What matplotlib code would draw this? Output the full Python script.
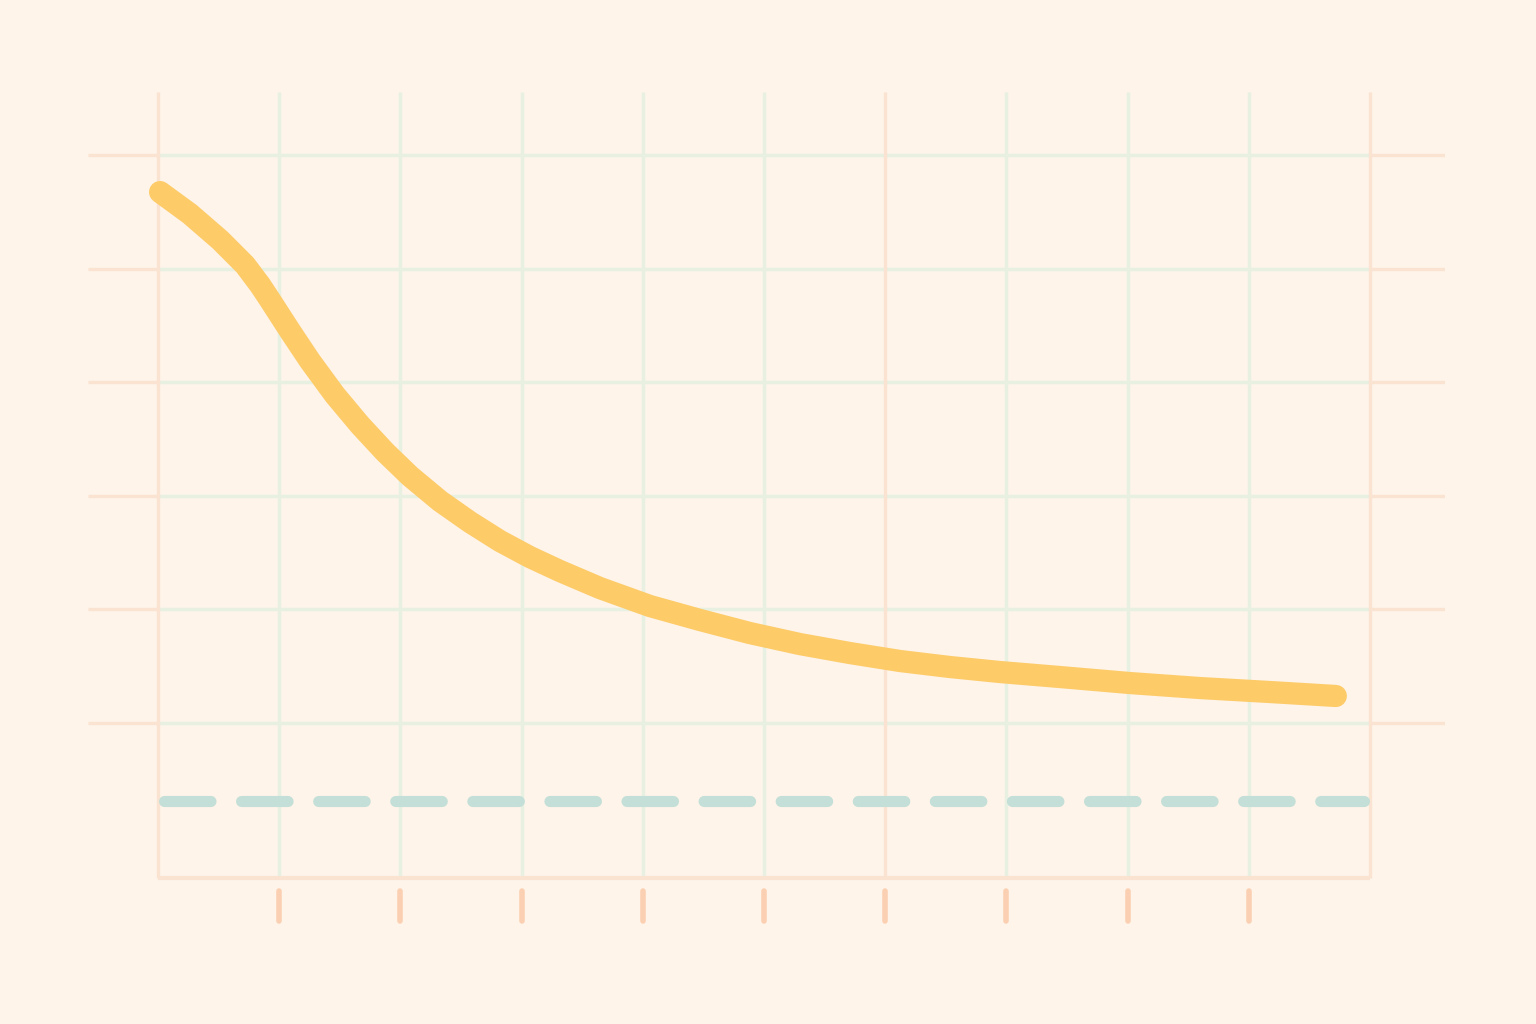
import matplotlib
matplotlib.use("Agg")
import matplotlib.pyplot as plt

# ---- data ----
curve_x = [0.017, 0.264, 0.512, 0.718, 0.842, 0.924, 1.089, 1.254, 1.460, 1.667, 1.873,
           2.079, 2.327, 2.574, 2.822, 3.069, 3.317, 3.647, 4.059, 4.472, 4.884,
           5.297, 5.710, 6.122, 6.535, 6.947, 7.442, 8.020, 8.597, 9.175, 9.719]
curve_y = [5.674, 5.481, 5.252, 5.032, 4.856, 4.724, 4.451, 4.187, 3.887, 3.623, 3.386,
           3.174, 2.954, 2.769, 2.602, 2.461, 2.338, 2.188, 2.030, 1.907, 1.792,
           1.695, 1.616, 1.546, 1.493, 1.449, 1.405, 1.352, 1.308, 1.273, 1.238]
baseline_y = 0.31
grid_x = [0, 1, 2, 3, 4, 5, 6, 7, 8, 9, 10]
accent_x = [0, 6, 10]
grid_y = [1, 2, 3, 4, 5, 6]
tick_x = [1, 2, 3, 4, 5, 6, 7, 8, 9]

# ---- style ----
BG = "#FEF4EA"
GREEN = "#E8F0E2"
ORANGE = "#FBE3D2"
CURVE = "#FDCB68"
DASH = "#C3DFD7"
TICK = "#FBD0B2"

plt.rcParams["lines.scale_dashes"] = False

fig = plt.figure(figsize=(15.36, 10.24), dpi=100, facecolor=BG)
ax = fig.add_axes([88 / 1536, 1 - 930 / 1024, (1445 - 88) / 1536, (930 - 92) / 1024])
ax.set_facecolor(BG)
xmin, xmax = -0.578, 10.62
ymin, ymax = -0.822, 6.555
ax.set_xlim(xmin, xmax)
ax.set_ylim(ymin, ymax)
ax.axis("off")

bottom = -0.364
lw_grid = 2.5

# horizontal grid lines
for y in grid_y:
    ax.plot([xmin, grid_x[0]], [y, y], color=ORANGE, lw=lw_grid, solid_capstyle="butt", zorder=1)
    ax.plot([grid_x[0], grid_x[-1]], [y, y], color=GREEN, lw=lw_grid, solid_capstyle="butt", zorder=1)
    ax.plot([grid_x[-1], xmax], [y, y], color=ORANGE, lw=lw_grid, solid_capstyle="butt", zorder=1)

# vertical grid lines
for x in grid_x:
    c = ORANGE if x in accent_x else GREEN
    ax.plot([x, x], [bottom, ymax], color=c, lw=lw_grid, solid_capstyle="butt", zorder=2)

# bottom border
ax.plot([grid_x[0], grid_x[-1]], [bottom, bottom], color=ORANGE, lw=3.0, solid_capstyle="butt", zorder=2)

# tick marks below
for x in tick_x:
    ax.plot([x, x], [-0.48, -0.74], color=TICK, lw=4.0, solid_capstyle="round", zorder=3, clip_on=False)

# dashed baseline
ax.plot([grid_x[0] + 0.05, grid_x[-1] - 0.05], [baseline_y, baseline_y], color=DASH, lw=8.0,
        dashes=(33.5, 22.0), dash_capstyle="round", zorder=4, clip_on=False)

# main curve
ax.plot(curve_x, curve_y, color=CURVE, lw=16.0, solid_capstyle="round",
        solid_joinstyle="round", zorder=5, clip_on=False)

fig.savefig("out.png", dpi=100, facecolor=BG)
